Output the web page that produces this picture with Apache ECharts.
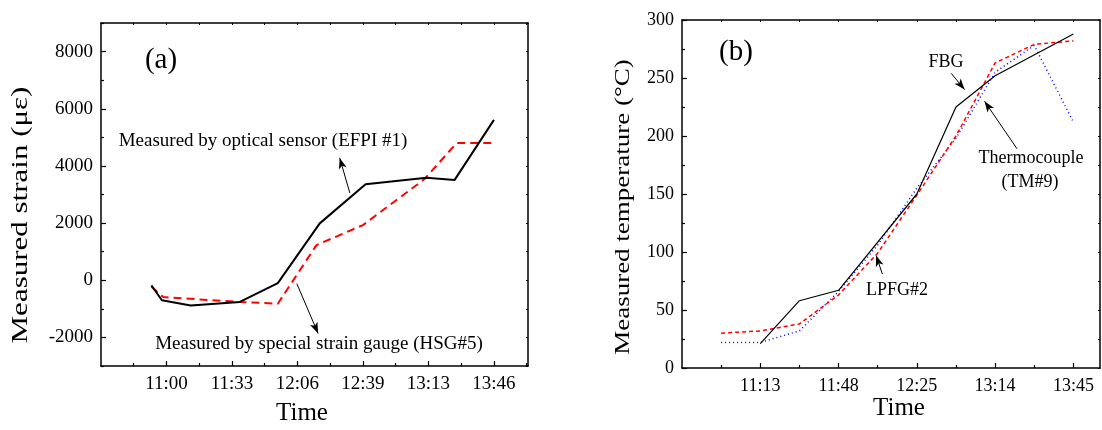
<!DOCTYPE html>
<html>
<head>
<meta charset="utf-8">
<script src="https://cdn.jsdelivr.net/npm/echarts@6/dist/echarts.min.js"></script>
<style>html,body{margin:0;padding:0;background:#fff}#c{width:1102px;height:430px}</style>
</head>
<body>
<div id="c"></div>
<script>
// ---------- DATA ----------
// Panel (a): x in tick units (1 = first labelled tick)
const leftTickLabels = ['11:00', '11:33', '12:06', '12:39', '13:13', '13:46'];
const leftOpticalX = [0.77, 0.93, 1.37, 2.12, 2.70, 3.34, 4.04, 4.97, 5.40, 6.00];
const leftOpticalY = [-180, -700, -880, -760, -100, 1990, 3360, 3590, 3510, 5610];
const leftGaugeX = [0.77, 0.95, 2.12, 2.70, 3.29, 4.00, 4.94, 5.43, 5.99];
const leftGaugeY = [-230, -590, -760, -820, 1230, 1930, 3540, 4800, 4800];
const leftYLabels = [-2000, 0, 2000, 4000, 6000, 8000];

// Panel (b)
const rightTickLabels = ['11:13', '11:48', '12:25', '13:14', '13:45'];
const fbgX = [1, 1.5, 2, 3, 3.5, 4, 5];
const fbgY = [21, 58, 67, 150, 225, 252, 288];
const sensorX = [0.5, 1, 1.5, 2, 2.5, 3, 3.5, 4, 4.5, 5];
const lpfgY = [30, 32, 38, 63, 99, 149, 200, 263, 279, 282];
const tcY = [22, 22, 32, 66, 106, 155, 198, 255, 278, 212];
const rightYLabels = [0, 50, 100, 150, 200, 250, 300];

const zip = (xs, ys) => xs.map((x, i) => [x, ys[i]]);
const range = (a, b, s) => { const r = []; for (let v = a; v <= b + 1e-9; v += s) r.push(+v.toFixed(4)); return r; };

const FONT = '"Liberation Serif", "Times New Roman", serif';
const BLACK = '#000';

function xAxesFor(gi, max, labels, labelSize) {
  const majors = labels.map((_, i) => i + 1);
  const minors = range(0.5, max, 1);
  const base = { type: 'value', gridIndex: gi, min: 0, max: max, splitLine: { show: false } };
  return [
    Object.assign({}, base, {
      position: 'bottom',
      axisLine: { show: true, onZero: false, lineStyle: { color: BLACK, width: 1.5 } },
      axisTick: { show: true, inside: true, length: 5, customValues: majors, lineStyle: { color: BLACK, width: 1.2 } },
      axisLabel: { show: true, customValues: majors, margin: 9, color: BLACK, fontFamily: FONT, fontSize: labelSize,
        formatter: v => labels[Math.round(v) - 1] || '' }
    }),
    Object.assign({}, base, {
      position: 'bottom',
      axisLine: { show: false, onZero: false },
      axisTick: { show: true, inside: true, length: 3, customValues: minors, lineStyle: { color: BLACK, width: 1.2 } },
      axisLabel: { show: false }
    }),
    Object.assign({}, base, {
      position: 'top',
      axisLine: { show: true, onZero: false, lineStyle: { color: BLACK, width: 1.5 } },
      axisTick: { show: true, inside: true, length: 2, customValues: majors.concat(minors), lineStyle: { color: BLACK, width: 1 } },
      axisLabel: { show: false }
    })
  ];
}

function yAxesFor(gi, min, max, majors, minors, labelSize) {
  const base = { type: 'value', gridIndex: gi, min: min, max: max, splitLine: { show: false } };
  return [
    Object.assign({}, base, {
      position: 'left',
      axisLine: { show: true, onZero: false, lineStyle: { color: BLACK, width: 1.5 } },
      axisTick: { show: true, inside: true, length: 5, customValues: majors, lineStyle: { color: BLACK, width: 1.2 } },
      axisLabel: { show: true, customValues: majors, margin: 8, color: BLACK, fontFamily: FONT, fontSize: labelSize,
        formatter: v => String(v) }
    }),
    Object.assign({}, base, {
      position: 'left',
      axisLine: { show: false, onZero: false },
      axisTick: { show: true, inside: true, length: 3, customValues: minors, lineStyle: { color: BLACK, width: 1.2 } },
      axisLabel: { show: false }
    }),
    Object.assign({}, base, {
      position: 'right',
      axisLine: { show: true, onZero: false, lineStyle: { color: BLACK, width: 1.5 } },
      axisTick: { show: true, inside: true, length: 2, customValues: majors.concat(minors), lineStyle: { color: BLACK, width: 1 } },
      axisLabel: { show: false }
    })
  ];
}

const leftMax = 6.52, rightMax = 5.34;
const xAxes = xAxesFor(0, leftMax, leftTickLabels, 19).concat(xAxesFor(1, rightMax, rightTickLabels, 18));
const yAxes = yAxesFor(0, -3000, 9000, leftYLabels, range(-3000, 9000, 2000), 19)
  .concat(yAxesFor(1, 0, 300, rightYLabels, range(25, 300, 50), 18));

function arrow(x1, y1, x2, y2) {
  return [{ coord: [x1, y1], symbol: 'none' }, { coord: [x2, y2], symbol: 'arrow', symbolSize: [6, 11] }];
}
const arrowStyle = { silent: true, animation: false, label: { show: false }, lineStyle: { color: BLACK, width: 1, type: 'solid' }, symbolSize: [6, 11] };

const series = [
  { type: 'line', xAxisIndex: 0, yAxisIndex: 0, data: zip(leftGaugeX, leftGaugeY), showSymbol: false,
    lineStyle: { color: '#ff0000', width: 2, type: [8, 5] } },
  { type: 'line', xAxisIndex: 0, yAxisIndex: 0, data: zip(leftOpticalX, leftOpticalY), showSymbol: false,
    lineStyle: { color: BLACK, width: 2 },
    markLine: Object.assign({}, arrowStyle, { data: [arrow(3.80, 3050, 3.645, 4280), arrow(2.99, -120, 3.315, -1860)] }) },
  { type: 'line', xAxisIndex: 3, yAxisIndex: 3, data: zip(sensorX, tcY), showSymbol: false,
    lineStyle: { color: '#0000ff', width: 1.5, type: [1, 3] } },
  { type: 'line', xAxisIndex: 3, yAxisIndex: 3, data: zip(sensorX, lpfgY), showSymbol: false,
    lineStyle: { color: '#ff0000', width: 1.5, type: [4, 3] } },
  { type: 'line', xAxisIndex: 3, yAxisIndex: 3, data: zip(fbgX, fbgY), showSymbol: false,
    lineStyle: { color: BLACK, width: 1.2 },
    markLine: Object.assign({}, arrowStyle, { data: [arrow(3.44, 254, 3.61, 240), arrow(4.28, 189, 3.865, 230), arrow(2.56, 81, 2.48, 97)] }) }
];

function txt(x, y, s, size, extra) {
  return Object.assign({ type: 'text', x: x, y: y, silent: true,
    style: { text: s, fill: BLACK, fontFamily: FONT, fontSize: size, align: 'center', verticalAlign: 'middle' } }, extra || {});
}

const graphic = [
  txt(161, 60, '(a)', 29),
  txt(263, 141, 'Measured by optical sensor (EFPI #1)', 19),
  txt(319, 344, 'Measured by special strain gauge (HSG#5)', 19),
  txt(736, 52, '(b)', 29),
  txt(946, 62, 'FBG', 18),
  txt(1031, 158, 'Thermocouple', 18),
  txt(1030, 182, '(TM#9)', 18),
  txt(897, 290, 'LPFG#2', 18),
  txt(302, 413, 'Time', 25),
  txt(899, 408, 'Time', 25),
  txt(21, 215, 'Measured strain (\u03bc\u03b5)', 31, { rotation: Math.PI / 2, scaleY: 0.75 }),
  txt(623, 207, 'Measured temperature (\u00b0C)', 27, { rotation: Math.PI / 2, scaleY: 0.8 })
];

const chart = echarts.init(document.getElementById('c'), null, { renderer: 'canvas' });
chart.setOption({
  animation: false,
  backgroundColor: '#fff',
  grid: [
    { left: 101, top: 23, width: 427, height: 343, containLabel: false },
    { left: 682, top: 20, width: 418, height: 348, containLabel: false }
  ],
  xAxis: xAxes,
  yAxis: yAxes,
  series: series,
  graphic: graphic
});
</script>
</body>
</html>
